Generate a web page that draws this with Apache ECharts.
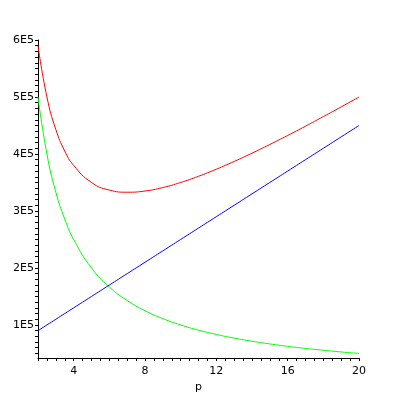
<!DOCTYPE html>
<html><head><meta charset="utf-8">
<script src="https://cdn.jsdelivr.net/npm/echarts@6/dist/echarts.min.js"></script>
<style>body{margin:0;background:#fff}#c{width:400px;height:400px}</style></head>
<body><div id="c"></div>
<script>
const pValues = [2,2.5,3,3.5,4,5,6,7,8,9,10,11,12,13,14,15,16,17,18,19,20];
const redValues = [590000,500000,443000,405000,380000,350000,336700,332900,335000,341100,350000,360900,373300,386900,401400,416700,432500,448800,465600,482600,500000];
const greenValues = [500000,400000,333000,285700,250000,200000,166700,142900,125000,111100,100000,90900,83300,76900,71400,66700,62500,58800,55600,52600,50000];
const blueValues = [90000,100000,110000,120000,130000,150000,170000,190000,210000,230000,250000,270000,290000,310000,330000,350000,370000,390000,410000,430000,450000];
const xTicks = [4,8,12,16,20];
const yTicks = [100000,200000,300000,400000,500000,600000];
const yMinor = [];
for (let v = 50000; v <= 600000; v += 10000) yMinor.push(v);
const xMinor = [];
for (let v = 2; v <= 20; v += 0.5) xMinor.push(v);
const mk = (vals, color) => ({type:'line', data: pValues.map((p,i)=>[p, vals[i]]), smooth:true, showSymbol:false, lineStyle:{color, width:1}, itemStyle:{color}});
const chart = echarts.init(document.getElementById('c'));
chart.setOption({
  animation:false,
  grid:{left:38, right:41, top:40, bottom:42},
  xAxis:{type:'value', min:2, max:20, name:'p', nameLocation:'middle', nameGap:20,
    nameTextStyle:{color:'#000', fontSize:11, fontFamily:'DejaVu Sans'},
    axisLine:{onZero:false, lineStyle:{color:'#000'}},
    axisTick:{customValues:xMinor, length:3, lineStyle:{color:'#000'}},
    axisLabel:{customValues:xTicks, color:'#000', fontSize:11, fontFamily:'DejaVu Sans'},
    splitLine:{show:false}},
  yAxis:{type:'value', min:42000, max:600000,
    axisLine:{onZero:false, lineStyle:{color:'#000'}},
    axisTick:{customValues:yMinor, length:3, lineStyle:{color:'#000'}},
    axisLabel:{customValues:yTicks, color:'#000', fontSize:11, fontFamily:'DejaVu Sans', margin:4,
      formatter:v=>(v/100000)+'E5'},
    splitLine:{show:false}},
  series:[mk(redValues,'#ff0000'), mk(greenValues,'#00ff00'), mk(blueValues,'#0000ff')]
});
</script></body></html>
